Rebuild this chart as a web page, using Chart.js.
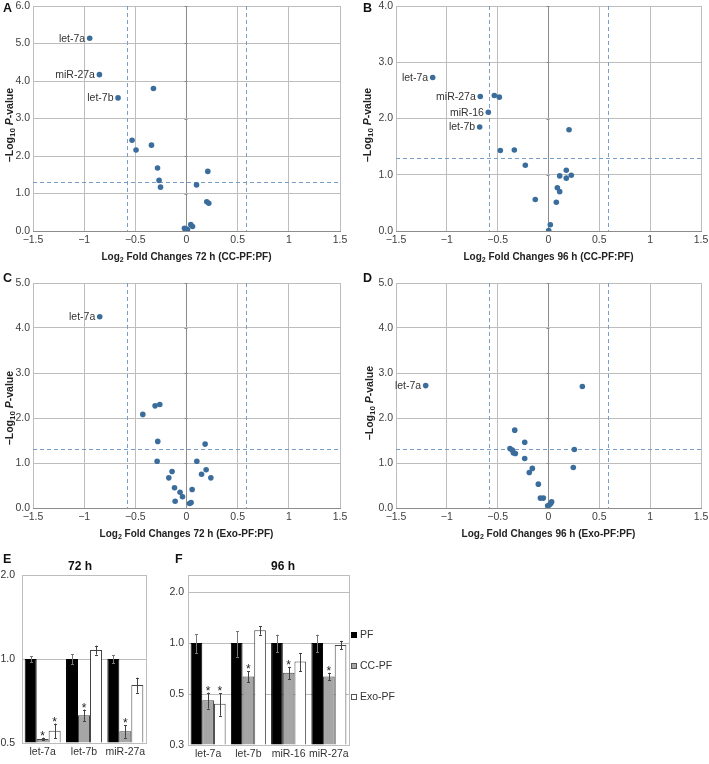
<!DOCTYPE html>
<html><head><meta charset="utf-8">
<script src="https://cdn.jsdelivr.net/npm/chart.js@4.4.1/dist/chart.umd.min.js"></script>
<style>
body{margin:0;background:#fff;width:709px;height:764px;position:relative;overflow:hidden;font-family:"Liberation Sans",Arial,Helvetica,sans-serif;}
canvas{position:absolute;}
.pl{position:absolute;font-weight:bold;font-size:12.5px;color:#111;line-height:1;}
.ttl{position:absolute;font-weight:bold;font-size:12px;color:#111;line-height:1;}
.leg{position:absolute;font-size:10.5px;color:#333;line-height:1;white-space:nowrap;}
.sq{display:inline-block;width:6px;height:6px;margin-right:3px;vertical-align:0px;box-sizing:border-box;}
</style></head><body>
<canvas id="cA" width="355" height="265" style="left:0;top:0"></canvas>
<canvas id="cB" width="354" height="265" style="left:355px;top:0"></canvas>
<canvas id="cC" width="355" height="280" style="left:0;top:265px"></canvas>
<canvas id="cD" width="354" height="280" style="left:355px;top:265px"></canvas>
<canvas id="cE" width="160" height="219" style="left:0;top:545px"></canvas>
<canvas id="cF" width="195" height="219" style="left:165px;top:545px"></canvas>
<div class="pl" style="left:3px;top:2px">A</div>
<div class="pl" style="left:363px;top:2px">B</div>
<div class="pl" style="left:3px;top:272px">C</div>
<div class="pl" style="left:363px;top:272px">D</div>
<div class="pl" style="left:3px;top:553px">E</div>
<div class="pl" style="left:175px;top:553px">F</div>
<div class="ttl" style="left:68px;top:560px">72 h</div>
<div class="ttl" style="left:271px;top:560px">96 h</div>
<div class="leg" style="left:351px;top:629px"><span class="sq" style="background:#000;border:1px solid #000"></span>PF</div>
<div class="leg" style="left:351px;top:660px"><span class="sq" style="background:#a6a6a6;border:1px solid #555"></span>CC-PF</div>
<div class="leg" style="left:351px;top:691px"><span class="sq" style="background:#fff;border:1px solid #555"></span>Exo-PF</div>
<script>
// ---------- data ----------
const xTicksVolcano = [-1.5, -1, -0.5, 0, 0.5, 1, 1.5];
const FOLD_CUT = 0.585;   // log2(1.5)
const P_CUT = 1.301;      // -log10(0.05)

// A: 72 h CC-PF:PF
const aX = [-0.946,-0.851,-0.669,-0.323,-0.532,-0.493,-0.342,-0.283,-0.268,-0.254,0.208,0.098,0.198,0.218,0.042,0.059,-0.020,0.010,0.000];
const aY = [5.14,4.17,3.55,3.80,2.42,2.16,2.29,1.68,1.35,1.17,1.59,1.23,0.78,0.74,0.17,0.12,0.07,0.04,0.05];
const aNames = ['let-7a','miR-27a','let-7b'];
// B: 96 h CC-PF:PF
const bX = [-1.139,-0.671,-0.592,-0.677,-0.533,-0.484,0.202,-0.474,-0.336,-0.228,0.175,0.110,0.224,0.175,0.087,0.110,-0.130,0.077,0.018,0.002];
const bY = [2.73,2.39,2.11,1.85,2.41,2.38,1.80,1.43,1.44,1.17,1.08,0.98,0.99,0.94,0.77,0.70,0.56,0.51,0.11,0.01];
const bNames = ['let-7a','miR-27a','miR-16','let-7b'];
// C: 72 h Exo-PF:PF
const cX = [-0.848,-0.427,-0.307,-0.261,-0.281,0.182,-0.287,0.101,-0.141,-0.173,0.192,0.147,0.238,-0.117,-0.063,-0.039,0.055,-0.111,0.029,0.045];
const cY = [4.25,2.08,2.27,2.30,1.48,1.42,1.04,1.04,0.81,0.67,0.85,0.75,0.67,0.45,0.35,0.25,0.41,0.15,0.10,0.12];
const cNames = ['let-7a'];
// D: 96 h Exo-PF:PF
const dX = [-1.208,0.333,-0.332,-0.234,-0.379,-0.356,-0.346,-0.326,0.254,-0.234,0.244,-0.159,-0.189,-0.100,-0.080,-0.051,0.031,0.022,0.010,-0.008];
const dY = [2.72,2.70,1.73,1.46,1.32,1.29,1.23,1.21,1.30,1.10,0.90,0.88,0.79,0.53,0.22,0.22,0.14,0.10,0.07,0.05];
const dNames = ['let-7a'];

// E: 72 h bars
const e72Cats = ['let-7a','let-7b','miR-27a'];
const e72Ticks = [0.5, 1, 2];
const e72PF = [1, 1, 1];            const e72PFErr = [0.025, 0.042, 0.034];
const e72CC = [0.517, 0.629, 0.551]; const e72CCErr = [0.006, 0.030, 0.029];
const e72Exo = [0.553, 1.077, 0.807]; const e72ExoErr = [0.034, 0.040, 0.050];
const e72CCSig = [true, true, true]; const e72ExoSig = [true, false, false];
// F: 96 h bars
const f96Cats = ['let-7a','let-7b','miR-16','miR-27a'];
const f96Ticks = [0.25, 0.5, 1, 2];
const f96PF = [1, 1, 1, 1];                   const f96PFErr = [0.13, 0.17, 0.12, 0.12];
const f96CC = [0.46, 0.634, 0.667, 0.634];    const f96CCErr = [0.05, 0.046, 0.056, 0.033];
const f96Exo = [0.438, 1.19, 0.777, 0.973];   const f96ExoErr = [0.066, 0.07, 0.097, 0.057];
const f96CCSig = [true, true, true, true];    const f96ExoSig = [true, false, false, false];

// ---------- helpers ----------
const FONT = '"Liberation Sans", Arial, Helvetica, sans-serif';
const GRID = '#bdbdbd';
Chart.defaults.font.family = FONT;
Chart.defaults.color = '#404040';
Chart.defaults.animation = false;

function segFont(s, size){ return (s.it?'italic ':'') + 'bold ' + (s.sub? Math.round(size*0.72): size) + 'px ' + FONT; }
function drawRich(ctx, segs, x, y, rot, size){
  ctx.save(); ctx.translate(x, y); ctx.rotate(rot);
  let total = 0;
  segs.forEach(s => { ctx.font = segFont(s,size); s.w = ctx.measureText(s.t).width; total += s.w; });
  let cx = -total/2;
  ctx.textBaseline = 'middle'; ctx.textAlign = 'left'; ctx.fillStyle = '#222';
  segs.forEach(s => { ctx.font = segFont(s,size); ctx.fillText(s.t, cx, s.sub ? size*0.3 : 0); cx += s.w; });
  ctx.restore();
}
const yTitleSegs = [{t:'\u2013Log'},{t:'10',sub:true},{t:' '},{t:'P',it:true},{t:'-value'}];

function volcanoPlugin(names, xLabel, ytx, yty){
  return {
    id: 'volcano',
    beforeDatasetsDraw(chart){
      const {ctx, chartArea:a, scales:{x, y}} = chart;
      ctx.save();
      ctx.lineWidth = 1; ctx.strokeStyle = '#8c8c8c';
      const x0 = Math.round(x.getPixelForValue(0)) + 0.5;
      y.ticks.forEach(t => { const py = Math.round(y.getPixelForValue(t.value)) + 0.5;
        ctx.beginPath(); ctx.moveTo(x0-3, py); ctx.lineTo(x0, py); ctx.stroke(); });
      ctx.strokeStyle = '#7a9fc6'; ctx.setLineDash([4,3]);
      [-FOLD_CUT, FOLD_CUT].forEach(v => { const px = Math.round(x.getPixelForValue(v)) + 0.5;
        ctx.beginPath(); ctx.moveTo(px, a.top); ctx.lineTo(px, a.bottom); ctx.stroke(); });
      const py = Math.round(y.getPixelForValue(P_CUT)) + 0.5;
      ctx.beginPath(); ctx.moveTo(a.left, py); ctx.lineTo(a.right, py); ctx.stroke();
      ctx.restore();
    },
    afterDraw(chart){
      const {ctx, chartArea:a} = chart;
      const meta = chart.getDatasetMeta(0);
      ctx.save();
      ctx.font = '10.5px ' + FONT; ctx.fillStyle = '#333'; ctx.textAlign = 'right'; ctx.textBaseline = 'middle';
      names.forEach((n, i) => { const p = meta.data[i]; ctx.fillText(n, p.x - 4.5, p.y + 0.5); });
      ctx.restore();
      drawRich(ctx, [{t:'Log'},{t:'2',sub:true},{t:xLabel}], (a.left+a.right)/2, a.bottom + 26, 0, 10);
      drawRich(ctx, yTitleSegs, ytx, yty, -Math.PI/2, 10.5);
    }
  };
}

function volcano(id, xs, ys, names, ymax, yW, padTop, padRight, xH, xLabel, ytx, yty){
  const pts = xs.map((v, i) => ({x: v, y: ys[i]}));
  return new Chart(document.getElementById(id), {
    type: 'scatter',
    data: { datasets: [{ data: pts, backgroundColor: '#3b6d9c', borderWidth: 0, pointRadius: 2.8 }] },
    options: {
      responsive: false, animation: false,
      layout: { padding: { top: padTop, right: padRight, left: 0, bottom: 0 } },
      plugins: { legend: { display: false }, tooltip: { enabled: false } },
      scales: {
        x: { type: 'linear', min: -1.5, max: 1.5,
             afterBuildTicks(s){ s.ticks = xTicksVolcano.map(v => ({value: v})); },
             ticks: { font: { size: 10.5 }, color: '#404040', padding: 3, maxRotation: 0,
                      callback: v => (v < 0 ? '\u2212' : '') + Math.abs(v) },
             grid: { drawTicks: false, lineWidth: 1, color: c => (c.tick && c.tick.value === 0) ? '#8c8c8c' : GRID },
             border: { color: '#8c8c8c' },
             afterFit(s){ s.height = xH; s.paddingLeft = 0; s.paddingRight = 0; } },
        y: { type: 'linear', min: 0, max: ymax,
             ticks: { stepSize: 1, font: { size: 10.5 }, color: '#404040', padding: 3, callback: v => v.toFixed(1) },
             grid: { drawTicks: false, lineWidth: 1, color: GRID },
             border: { display: false },
             afterFit(s){ s.width = yW; s.paddingTop = 0; s.paddingBottom = 0; } }
      }
    },
    plugins: [volcanoPlugin(names, xLabel, ytx, yty)]
  });
}

volcano('cA', aX, aY, aNames, 6, 33, 6, 15, 34, ' Fold Changes 72 h (CC-PF:PF)', 10, 125);
volcano('cB', bX, bY, bNames, 4, 41, 6, 8, 34, ' Fold Changes 96 h (CC-PF:PF)', 13, 125);
volcano('cC', cX, cY, cNames, 5, 33, 18, 15, 37, ' Fold Changes 72 h (Exo-PF:PF)', 10, 143);
volcano('cD', dX, dY, dNames, 5, 41, 18, 8, 37, ' Fold Changes 96 h (Exo-PF:PF)', 15, 138);

// ---------- bars ----------
const framePlugin = { id: 'frame', beforeDatasetsDraw(chart){
  const {ctx, chartArea:a} = chart; ctx.save(); ctx.strokeStyle = GRID; ctx.lineWidth = 1;
  ctx.strokeRect(Math.round(a.left)+0.5, Math.round(a.top)+0.5, Math.round(a.right-a.left), Math.round(a.bottom-a.top)); ctx.restore(); } };

function errPlugin(errs, sigs){
  return { id: 'errbars', afterDatasetsDraw(chart){
    const ctx = chart.ctx, y = chart.scales.y;
    ctx.save();
    chart.data.datasets.forEach((ds, di) => {
      const meta = chart.getDatasetMeta(di);
      meta.data.forEach((bar, i) => {
        const v = ds.data[i], e = errs[di][i];
        const top = y.getPixelForValue(v + e), bot = y.getPixelForValue(v - e);
        const cx = Math.round(bar.x) + 0.5;
        ctx.strokeStyle = di === 0 ? '#777' : '#444'; ctx.lineWidth = 1;
        ctx.beginPath(); ctx.moveTo(cx, top); ctx.lineTo(cx, bot);
        ctx.moveTo(cx-1.5, Math.round(top)+0.5); ctx.lineTo(cx+1.5, Math.round(top)+0.5);
        ctx.moveTo(cx-1.5, Math.round(bot)+0.5); ctx.lineTo(cx+1.5, Math.round(bot)+0.5);
        ctx.stroke();
        if (sigs[di] && sigs[di][i]) {
          ctx.fillStyle = '#222'; ctx.font = '12px ' + FONT; ctx.textAlign = 'center'; ctx.textBaseline = 'alphabetic';
          ctx.fillText('*', bar.x, top + 2);
        }
      });
    });
    ctx.restore();
  } };
}

function bars(id, cats, pf, cc, exo, errs, sigs, ticks, ymin, ymax, yW, padRight, xH, tickPad){
  const common = { borderWidth: 1, base: ymin, categoryPercentage: 0.87, barPercentage: 1 };
  return new Chart(document.getElementById(id), {
    type: 'bar',
    data: { labels: cats, datasets: [
      Object.assign({ label: 'PF', data: pf, backgroundColor: '#000', borderColor: '#000' }, common),
      Object.assign({ label: 'CC-PF', data: cc, backgroundColor: '#a6a6a6', borderColor: '#444' }, common),
      Object.assign({ label: 'Exo-PF', data: exo, backgroundColor: '#fff', borderColor: '#444' }, common)
    ] },
    options: {
      responsive: false, animation: false,
      layout: { padding: { top: 30, right: padRight, left: 0, bottom: 0 } },
      plugins: { legend: { display: false }, tooltip: { enabled: false } },
      scales: {
        x: { grid: { display: false, drawTicks: false }, border: { color: GRID },
             ticks: { font: { size: 10.5 }, color: '#333', padding: 3, maxRotation: 0, autoSkip: false },
             afterFit(s){ s.height = xH; s.paddingLeft = 0; s.paddingRight = 0; } },
        y: { type: 'logarithmic', min: ymin, max: ymax,
             afterBuildTicks(s){ s.ticks = ticks.map(v => ({value: v})); },
             ticks: { font: { size: 10.5 }, color: '#333', padding: tickPad, callback: v => Number(v).toFixed(1) },
             grid: { drawTicks: false, color: GRID }, border: { color: GRID },
             afterFit(s){ s.width = yW; s.paddingTop = 0; s.paddingBottom = 0; } }
      }
    },
    plugins: [framePlugin, errPlugin(errs, sigs)]
  });
}

bars('cE', e72Cats, e72PF, e72CC, e72Exo, [e72PFErr, e72CCErr, e72ExoErr], [null, e72CCSig, e72ExoSig],
     e72Ticks, 0.5, 2, 22, 14, 21, 7);
bars('cF', f96Cats, f96PF, f96CC, f96Exo, [f96PFErr, f96CCErr, f96ExoErr], [null, f96CCSig, f96ExoSig],
     f96Ticks, 0.25, 2.52, 23, 11, 19, 4);
</script>
</body></html>
